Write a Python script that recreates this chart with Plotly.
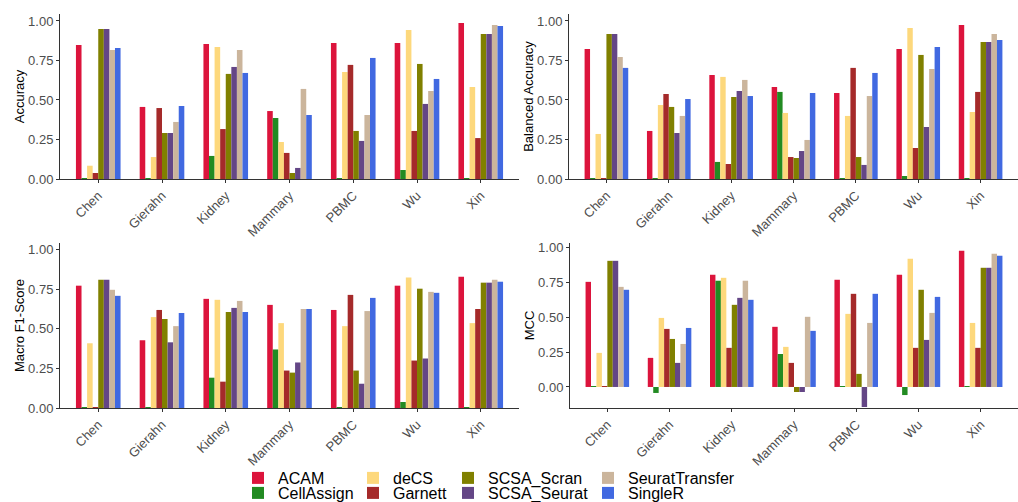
import plotly.graph_objects as go

datasets = ["Chen", "Gierahn", "Kidney", "Mammary", "PBMC", "Wu", "Xin"]
methods = ["ACAM", "CellAssign", "deCS", "Garnett", "SCSA_Scran", "SCSA_Seurat", "SeuratTransfer", "SingleR"]
colors = ["#DC143C", "#228B22", "#FDD87C", "#A52A2A", "#808000", "#644686", "#CBB59C", "#4169E1"]

# values per method, ordered by datasets
accuracy = {
    "ACAM":           [0.848, 0.456, 0.854, 0.430, 0.861, 0.861, 0.987],
    "CellAssign":     [0.005, 0.005, 0.146, 0.386, 0.005, 0.057, 0.005],
    "deCS":           [0.084, 0.139, 0.835, 0.234, 0.677, 0.943, 0.582],
    "Garnett":        [0.038, 0.449, 0.316, 0.165, 0.722, 0.304, 0.259],
    "SCSA_Scran":     [0.949, 0.291, 0.665, 0.038, 0.304, 0.728, 0.918],
    "SCSA_Seurat":    [0.949, 0.291, 0.709, 0.070, 0.241, 0.475, 0.918],
    "SeuratTransfer": [0.816, 0.361, 0.816, 0.570, 0.405, 0.557, 0.975],
    "SingleR":        [0.829, 0.462, 0.671, 0.405, 0.766, 0.633, 0.968],
}
balanced_accuracy = {
    "ACAM":           [0.823, 0.304, 0.658, 0.582, 0.544, 0.823, 0.975],
    "CellAssign":     [0.005, 0.005, 0.108, 0.551, 0.005, 0.019, 0.005],
    "deCS":           [0.285, 0.468, 0.646, 0.418, 0.399, 0.956, 0.424],
    "Garnett":        [0.005, 0.538, 0.095, 0.139, 0.703, 0.196, 0.551],
    "SCSA_Scran":     [0.918, 0.456, 0.519, 0.133, 0.139, 0.785, 0.867],
    "SCSA_Seurat":    [0.918, 0.291, 0.557, 0.177, 0.089, 0.329, 0.867],
    "SeuratTransfer": [0.772, 0.399, 0.627, 0.247, 0.525, 0.696, 0.918],
    "SingleR":        [0.703, 0.506, 0.525, 0.544, 0.671, 0.835, 0.880],
}
macro_f1 = {
    "ACAM":           [0.771, 0.427, 0.688, 0.650, 0.618, 0.771, 0.828],
    "CellAssign":     [0.002, 0.005, 0.191, 0.369, 0.005, 0.038, 0.005],
    "deCS":           [0.408, 0.573, 0.682, 0.535, 0.516, 0.822, 0.535],
    "Garnett":        [0.002, 0.618, 0.166, 0.236, 0.713, 0.299, 0.624],
    "SCSA_Scran":     [0.809, 0.561, 0.605, 0.223, 0.236, 0.752, 0.790],
    "SCSA_Seurat":    [0.809, 0.414, 0.631, 0.287, 0.153, 0.312, 0.790],
    "SeuratTransfer": [0.745, 0.516, 0.675, 0.624, 0.611, 0.732, 0.809],
    "SingleR":        [0.707, 0.599, 0.605, 0.624, 0.694, 0.726, 0.796],
}
mcc = {
    "ACAM":           [0.755, 0.209, 0.806, 0.432, 0.770, 0.806, 0.978],
    "CellAssign":     [0.007, -0.043, 0.763, 0.237, 0.007, -0.058, 0.007],
    "deCS":           [0.245, 0.496, 0.784, 0.288, 0.525, 0.921, 0.460],
    "Garnett":        [0.007, 0.417, 0.281, 0.173, 0.669, 0.281, 0.281],
    "SCSA_Scran":     [0.906, 0.345, 0.590, -0.036, 0.094, 0.698, 0.856],
    "SCSA_Seurat":    [0.906, 0.173, 0.640, -0.036, -0.144, 0.338, 0.856],
    "SeuratTransfer": [0.719, 0.309, 0.763, 0.504, 0.460, 0.532, 0.957],
    "SingleR":        [0.698, 0.424, 0.626, 0.403, 0.669, 0.647, 0.942],
}

panels = [
    ("Accuracy", accuracy, "x", "y"),
    ("Balanced Accuracy", balanced_accuracy, "x2", "y2"),
    ("Macro F1-Score", macro_f1, "x3", "y3"),
    ("MCC", mcc, "x4", "y4"),
]

W, H = 1018, 502
legend_names = ["legend", "legend2", "legend3", "legend4", "legend5", "legend6", "legend7", "legend8"]

fig = go.Figure()
for pi, (title, data, xa, ya) in enumerate(panels):
    for mi, m in enumerate(methods):
        fig.add_trace(go.Bar(
            x=datasets, y=data[m], name=m, marker_color=colors[mi],
            marker_line_width=0, xaxis=xa, yaxis=ya,
            showlegend=(pi == 0), legend=legend_names[mi],
        ))

def px_dom(a, b, total):
    return [a / total, b / total]

def py_dom(top, bottom):
    return [1 - bottom / H, 1 - top / H]

tickfont = dict(family="Liberation Sans, Arial", size=13, color="#4D4D4D")
titlefont = dict(family="Liberation Sans, Arial", size=13, color="#000000")

def xaxis(dom, anchor):
    return dict(domain=dom, anchor=anchor, type="category", range=[-0.6, 6.6],
                showline=True, linecolor="#333333", linewidth=1, ticks="outside",
                ticklen=3, tickcolor="#333333", tickangle=-45, tickfont=tickfont,
                showgrid=False, zeroline=False, fixedrange=True, automargin=False)

def yaxis(dom, anchor, title, rng):
    return dict(domain=dom, anchor=anchor, range=rng,
                tickvals=[0, 0.25, 0.5, 0.75, 1.0], ticktext=["0.00", "0.25", "0.50", "0.75", "1.00"],
                showline=True, linecolor="#333333", linewidth=1, ticks="outside",
                ticklen=3, tickcolor="#333333", tickfont=tickfont,
                title=dict(text=title, font=titlefont, standoff=0),
                showgrid=False, zeroline=False, fixedrange=True, automargin=False)

legend_pos = [  # (text start x px, row center y px)
    (278, 478), (278, 493), (393, 478), (393, 493),
    (488, 478), (488, 493), (628, 478), (628, 493),
]

layout = dict(
    width=W, height=H, margin=dict(l=0, r=0, t=0, b=0, autoexpand=False),
    paper_bgcolor="white", plot_bgcolor="white",
    bargap=0.3, bargroupgap=0, barmode="group",
    xaxis=xaxis(px_dom(60, 519, W), "y"),
    yaxis=yaxis(py_dom(14, 179), "x", "Accuracy", [0, 1.044]),
    xaxis2=xaxis(px_dom(569, 1018, W), "y2"),
    yaxis2=yaxis(py_dom(14, 179), "x2", "Balanced Accuracy", [0, 1.044]),
    xaxis3=xaxis(px_dom(60, 519, W), "y3"),
    yaxis3=yaxis(py_dom(243, 408), "x3", "Macro F1-Score", [0, 1.04]),
    xaxis4=xaxis(px_dom(570, 1018, W), "y4"),
    yaxis4=yaxis(py_dom(243, 408), "x4", "MCC", [-0.151, 1.034]),
)
for name, (tx, ty) in zip(legend_names, legend_pos):
    layout[name] = dict(x=(tx - 40) / W, y=1 - ty / H, xanchor="left", yanchor="middle",
                        bgcolor="rgba(0,0,0,0)", borderwidth=0,
                        font=dict(family="Liberation Sans, Arial", size=16, color="#000000"))
fig.update_layout(**layout)

fig.write_html(
    "out.html",
    config={"displayModeBar": False},
    post_script="document.documentElement.style.margin='0';document.body.style.margin='0';"
                "document.body.style.overflow='hidden';",
)
